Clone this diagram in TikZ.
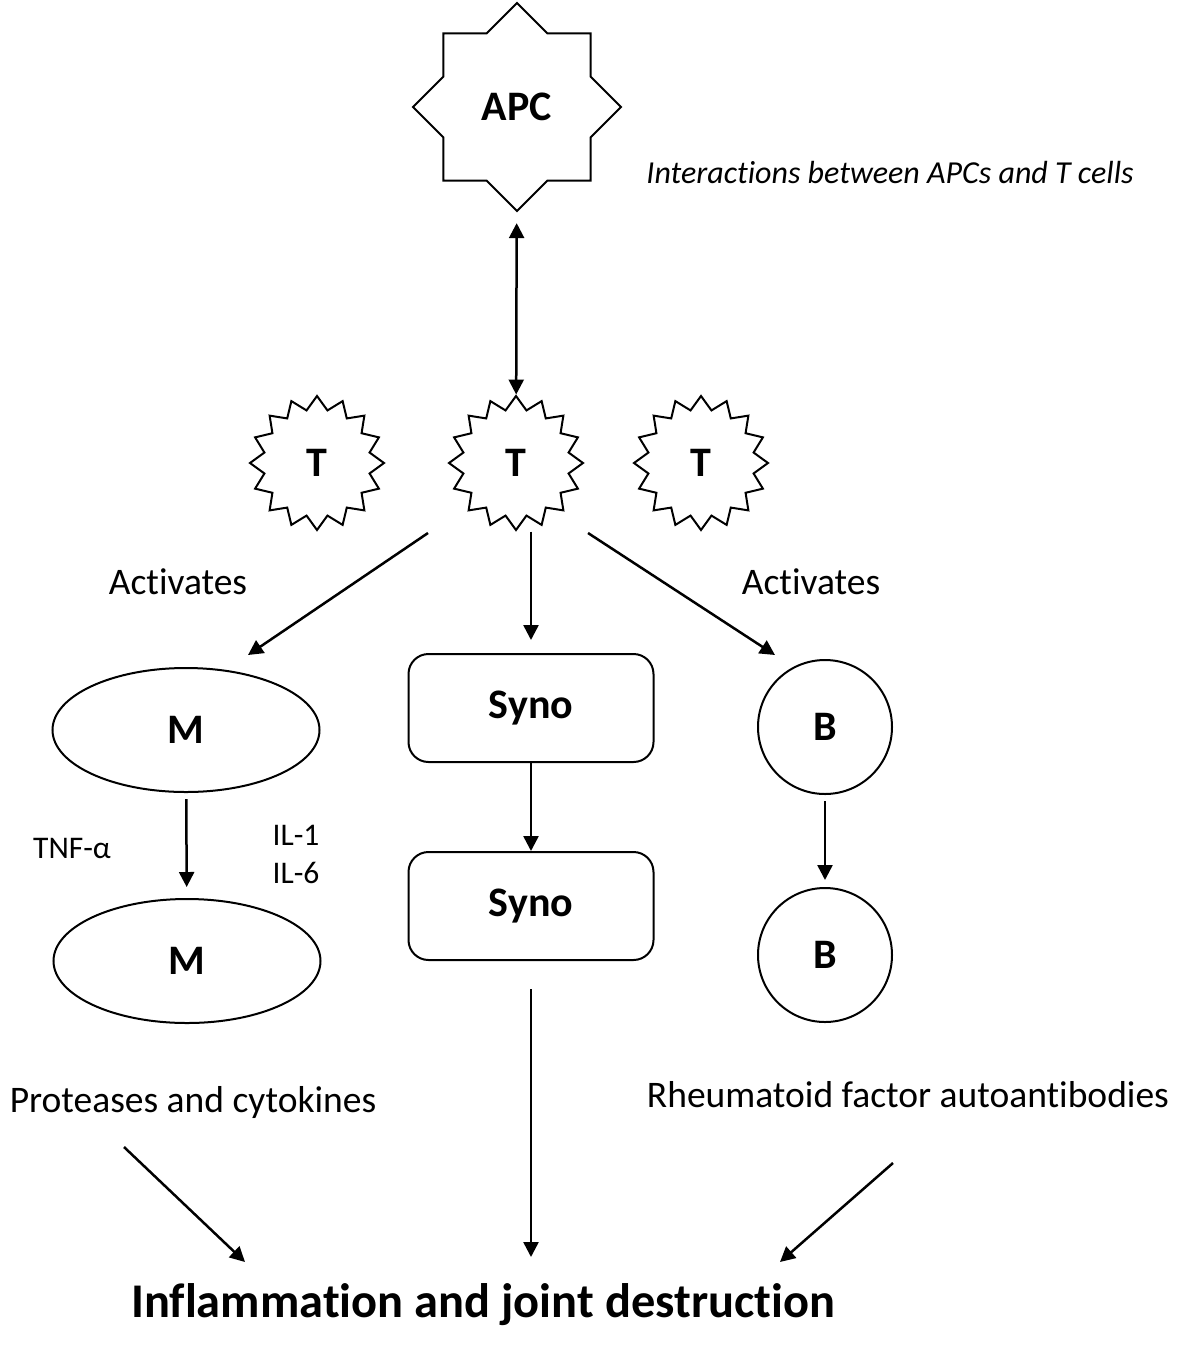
\documentclass[tikz,border=0pt]{standalone}
\usepackage{fontspec}
\setmainfont[Ligatures=NoCommon]{Carlito}
\usetikzlibrary{arrows.meta,shapes.geometric}
\tikzset{
    % Cell shapes
    apcstar/.style={
        star, star points=8, star point ratio=1.307,
        minimum size=208pt, inner sep=0pt, draw, line width=2pt,
        font=\fontsize{42}{50}\selectfont\bfseries
    },
    tstar/.style={
        star, star points=16, star point ratio=1.25,
        minimum size=134pt, inner sep=0pt, draw, line width=2pt,
        font=\fontsize{42}{50}\selectfont\bfseries
    },
    mcell/.style={
        ellipse, minimum width=267pt, minimum height=124pt,
        inner sep=0pt, draw, line width=2pt,
        font=\fontsize{42}{50}\selectfont\bfseries
    },
    synobox/.style={
        rectangle, rounded corners=20pt, minimum width=245pt, minimum height=108pt,
        inner sep=0pt, draw, line width=2pt,
        font=\fontsize{42}{50}\selectfont\bfseries
    },
    bcell/.style={
        circle, minimum size=134pt, inner sep=0pt, draw, line width=2pt,
        font=\fontsize{42}{50}\selectfont\bfseries
    },
    % Texts
    lbl/.style={anchor=base, inner sep=0pt, font=\fontsize{37.5}{45}\selectfont},
    smalllbl/.style={anchor=base, inner sep=0pt, font=\fontsize{31.5}{38}\selectfont},
    notelbl/.style={anchor=base, inner sep=0pt, font=\fontsize{32}{38}\selectfont\itshape},
    resultlbl/.style={anchor=base, inner sep=0pt, font=\fontsize{48.4}{58}\selectfont\bfseries},
    % Arrows
    arr/.style={-{Triangle[length=15pt,width=15pt]}, line width=2.5pt},
    dblarr/.style={{Triangle[length=15pt,width=15pt]}-{Triangle[length=15pt,width=15pt]}, line width=2.5pt},
}

\begin{document}
\begin{tikzpicture}[x=1pt,y=-1pt]
  \fill[white] (0,0) rectangle (1188,1353);
  \useasboundingbox (0,0) rectangle (1188,1353);

  % APC and T cells
  \node[apcstar] (apc) at (517,107) {APC};
  \node[notelbl] (note) at (890,183) {Interactions between APCs and T cells};
  \node[tstar] (t1) at (317,463) {T};
  \node[tstar] (t2) at (516,463) {T};
  \node[tstar] (t3) at (701,463) {T};

  \node[lbl] (actl) at (178,594) {Activates};
  \node[lbl] (actr) at (811,594) {Activates};

  % three branches
  \node[mcell] (m1) at (186,730) {M};
  \node[mcell] (m2) at (187,961) {M};
  \node[synobox] (syno1) at (531,708) {Syno};
  \node[synobox] (syno2) at (531,906) {Syno};
  \node[bcell] (b1) at (825,727) {B};
  \node[bcell] (b2) at (825,955) {B};

  \node[smalllbl] (tnf) at (72,858) {TNF-α};
  \node[smalllbl] (il1) at (296,845) {IL-1};
  \node[smalllbl] (il6) at (296,883) {IL-6};

  \node[lbl] (prot) at (193,1112) {Proteases and cytokines};
  \node[lbl] (rheum) at (908,1107) {Rheumatoid factor autoantibodies};
  \node[resultlbl] (inflam) at (483,1317) {Inflammation and joint destruction};

  % free arrow ends
  \coordinate (tls) at (428,533);
  \coordinate (tle) at (248,655);
  \coordinate (trs) at (588,533);
  \coordinate (tre) at (775,655);
  \coordinate (bls) at (124,1147);
  \coordinate (ble) at (245,1262);
  \coordinate (brs) at (893,1163);
  \coordinate (bre) at (780,1262);
  \coordinate (bce) at (531,1257);

  % connectors
  \draw[dblarr, shorten <=11pt] (apc) -- (t2);
  \draw[arr] (tls) -- (tle);
  \draw[arr] (trs) -- (tre);
  \draw[arr, shorten >=13pt] (t2.south -| syno1.north) -- (syno1.north);
  \draw[arr, shorten <=6pt, shorten >=11pt] (m1) -- (m2);
  \draw[arr] (syno1) -- (syno2);
  \draw[arr, shorten <=6pt, shorten >=7pt] (b1) -- (b2);
  \draw[arr, shorten <=28pt] (syno2) -- (bce);
  \draw[arr] (bls) -- (ble);
  \draw[arr] (brs) -- (bre);
\end{tikzpicture}
\end{document}
